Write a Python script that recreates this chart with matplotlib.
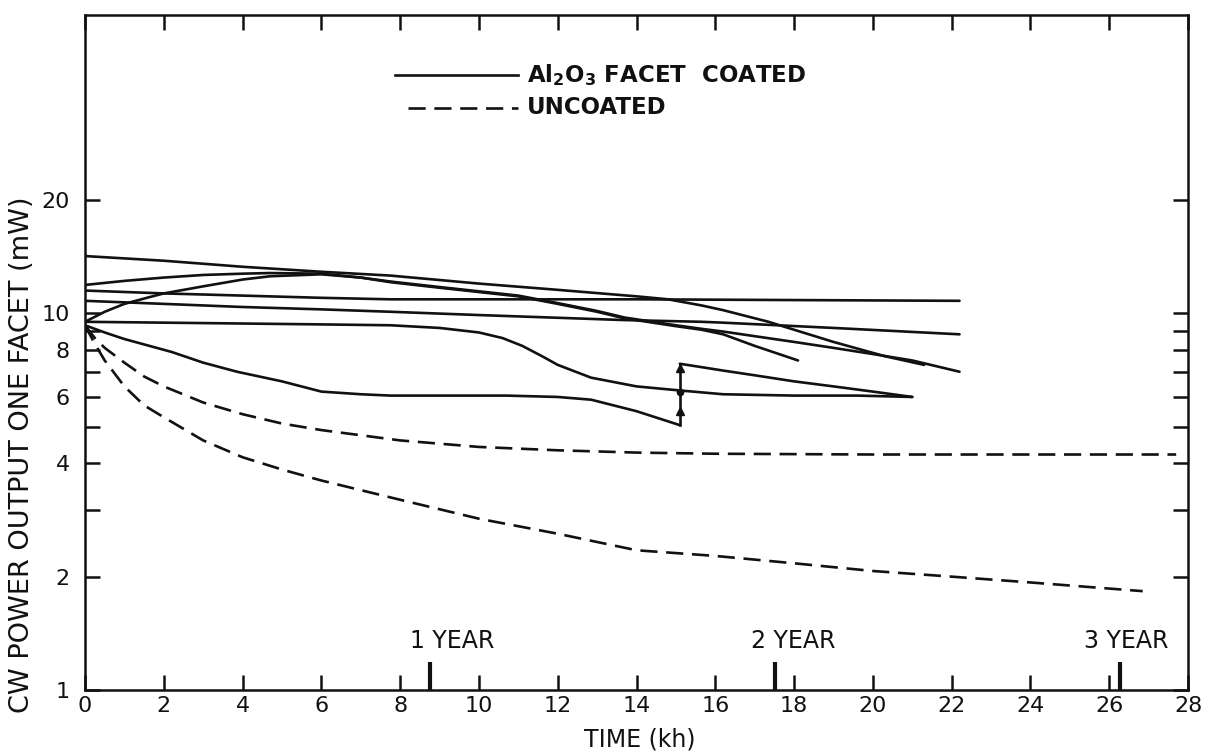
import matplotlib
matplotlib.use("Agg")
import matplotlib.pyplot as plt
from matplotlib.ticker import FixedLocator, FixedFormatter, NullLocator

# ---- data: CW power output (mW) versus operating time (kh) ----
# Al2O3 facet-coated lasers
coated_a_x = [0, 2, 4, 6, 7.76, 10, 12, 14, 14.8, 15.65, 16.2, 17.35, 19, 20.3, 21.3]
coated_a_y = [14.2, 13.8, 13.3, 12.9, 12.6, 12.0, 11.55, 11.1, 10.9, 10.5, 10.2, 9.5, 8.4, 7.7, 7.3]

coated_b_x = [0, 1, 2, 3, 4, 4.7, 6, 7, 7.76, 9, 11, 12, 13, 13.7, 15, 15.65, 16.2, 17, 18.1]
coated_b_y = [11.9, 12.2, 12.45, 12.65, 12.75, 12.8, 12.75, 12.45, 12.1, 11.7, 11.1, 10.6, 10.1,
              9.7, 9.25, 9.05, 8.8, 8.2, 7.5]

coated_c_x = [0, 0.5, 1, 1.57, 2, 3, 4, 4.7, 6, 7, 7.76, 9, 11, 12, 13, 13.7, 15, 15.65, 16.2,
              17, 18, 19, 20, 21, 22.2]
coated_c_y = [9.5, 10.1, 10.6, 11.0, 11.3, 11.8, 12.3, 12.55, 12.7, 12.45, 12.15, 11.75, 11.15,
              10.65, 10.15, 9.75, 9.3, 9.1, 8.95, 8.7, 8.4, 8.1, 7.8, 7.5, 7.0]

coated_d_x = [0, 2, 4, 6, 7.76, 10, 14, 18, 22.2]
coated_d_y = [11.5, 11.3, 11.15, 11.0, 10.9, 10.9, 10.9, 10.85, 10.8]

coated_e_x = [0, 2, 4, 6, 7.76, 10, 13.7, 15.65, 16.2, 19, 22.2]
coated_e_y = [10.8, 10.6, 10.4, 10.25, 10.1, 9.9, 9.6, 9.5, 9.45, 9.15, 8.8]

coated_f_x = [0, 2, 4, 6, 7.76, 9, 10, 10.6, 11.1, 11.6, 12, 12.85, 14, 15.05, 16.2, 18, 19.6, 21]
coated_f_y = [9.5, 9.45, 9.4, 9.35, 9.3, 9.15, 8.9, 8.6, 8.2, 7.7, 7.3, 6.75, 6.4, 6.25, 6.1,
              6.05, 6.05, 6.0]

coated_g_x = [0, 0.5, 1, 2.2, 3, 3.86, 5, 6, 7, 7.76, 10.7, 12, 12.85, 14, 15.1]
coated_g_y = [9.3, 8.9, 8.55, 7.9, 7.4, 7.0, 6.6, 6.2, 6.1, 6.05, 6.05, 6.0, 5.9, 5.5, 5.05]

# same device after the step increase at 15.1 kh
jump_kh = 15.1
jump_low = 5.05
jump_high = 7.35
arrow_levels = [5.5, 7.15]
dot_level = 6.2
coated_g2_x = [15.1, 15.65, 16.2, 17, 18, 19, 20, 21]
coated_g2_y = [7.35, 7.2, 7.05, 6.85, 6.6, 6.4, 6.2, 6.0]

# uncoated lasers
uncoated_a_x = [0, 0.25, 0.5, 1, 1.5, 2, 3, 4, 5, 6, 8, 10, 12, 14, 16, 20, 24, 27.7]
uncoated_a_y = [9.3, 8.6, 8.1, 7.4, 6.8, 6.4, 5.8, 5.4, 5.1, 4.9, 4.6, 4.42, 4.33, 4.27, 4.24,
                4.22, 4.22, 4.22]

uncoated_b_x = [0, 0.25, 0.5, 1, 1.5, 2, 3, 4, 5, 6, 8, 10, 12, 14, 16, 18, 20, 22, 24, 26.85]
uncoated_b_y = [9.3, 8.3, 7.5, 6.4, 5.7, 5.3, 4.6, 4.15, 3.85, 3.6, 3.2, 2.85, 2.6, 2.35, 2.27,
                2.17, 2.07, 2.0, 1.93, 1.83]

year_kh = [8.76, 17.52, 26.28]
year_labels = ["1 YEAR", "2 YEAR", "3 YEAR"]

x_ticks = list(range(0, 29, 2))
y_ticks = [1, 2, 3, 4, 5, 6, 7, 8, 9, 10, 20]
y_tick_labels = ["1", "2", "", "4", "", "6", "", "8", "", "10", "20"]

# ---- figure ----
W, H = 1212, 753
fig = plt.figure(figsize=(W / 100, H / 100), dpi=100)
ax_left, ax_right, ax_top, ax_bottom = 85, 1188, 15, 690
ax = fig.add_axes([ax_left / W, (H - ax_bottom) / H,
                   (ax_right - ax_left) / W, (ax_bottom - ax_top) / H])


def axes_xy(px, py):
    """Pixel position in the figure -> axes fraction."""
    return ((px - ax_left) / (ax_right - ax_left), (ax_bottom - py) / (ax_bottom - ax_top))


ink = "#111111"
lw = 1.9
dash = (6.5, 3.3)

coated = [
    (coated_a_x, coated_a_y), (coated_b_x, coated_b_y), (coated_c_x, coated_c_y),
    (coated_d_x, coated_d_y), (coated_e_x, coated_e_y), (coated_f_x, coated_f_y),
    (coated_g_x, coated_g_y), (coated_g2_x, coated_g2_y),
]
for xs, ys in coated:
    ax.plot(xs, ys, color=ink, lw=lw, solid_capstyle="round", solid_joinstyle="round")

# step at 15.1 kh with upward arrows
ax.plot([jump_kh, jump_kh], [jump_low, jump_high], color=ink, lw=lw)
ax.plot([jump_kh] * len(arrow_levels), arrow_levels, linestyle="none", marker="^",
        markersize=6, color=ink)
ax.plot([jump_kh], [dot_level], linestyle="none", marker="o", markersize=4.5, color=ink)

for xs, ys in [(uncoated_a_x, uncoated_a_y), (uncoated_b_x, uncoated_b_y)]:
    ax.plot(xs, ys, color=ink, lw=lw, dashes=dash)

ax.set_yscale("log")
ax.set_xlim(0, 28)
ax.set_ylim(1, 62)

ax.xaxis.set_major_locator(FixedLocator(x_ticks))
ax.yaxis.set_major_locator(FixedLocator(y_ticks))
ax.yaxis.set_major_formatter(FixedFormatter(y_tick_labels))
ax.yaxis.set_minor_locator(NullLocator())
ax.xaxis.set_minor_locator(NullLocator())

ax.tick_params(axis="both", which="major", direction="in", length=11, width=1.8,
               top=True, right=True, labelsize=16, colors=ink)
ax.tick_params(axis="x", pad=4)
ax.tick_params(axis="y", pad=11)
for side in ax.spines.values():
    side.set_linewidth(1.8)
    side.set_color(ink)

ax.set_xlabel("TIME (kh)", fontsize=17, color=ink)
ax.set_ylabel("CW POWER OUTPUT ONE FACET (mW)", fontsize=19.5, color=ink)
ax.yaxis.set_label_coords(*axes_xy(22, 455))
ax.xaxis.set_label_coords(*axes_xy(640, 740))
ax.xaxis.label.set_va("center")
ax.yaxis.label.set_va("center")

# year markers along the time axis
label_shift = [0.55, 0.47, 0.15]
for kh, label, shift in zip(year_kh, year_labels, label_shift):
    ax.plot([kh, kh], [1.0, 1.185], color=ink, lw=3, solid_capstyle="butt")
    ax.text(kh + shift, 1.35, label, ha="center", va="center", fontsize=17, color=ink)

# key
(x0, y0), (x1, _) = axes_xy(395, 75), axes_xy(518, 75)
x0d, y1 = axes_xy(408, 108)
ax.plot([x0, x1], [y0, y0], transform=ax.transAxes, color=ink, lw=lw)
ax.plot([x0d, x1], [y1, y1], transform=ax.transAxes, color=ink, lw=lw, dashes=dash)
tx, _ = axes_xy(527, 0)
ax.text(tx, y0, r"Al$_\mathbf{2}$O$_\mathbf{3}$ FACET  COATED", transform=ax.transAxes,
        fontsize=16.5, fontweight="bold", va="center", ha="left", color=ink)
ax.text(tx, y1, "UNCOATED", transform=ax.transAxes,
        fontsize=16.5, fontweight="bold", va="center", ha="left", color=ink)

fig.savefig("out.png", dpi=100, facecolor="white")
